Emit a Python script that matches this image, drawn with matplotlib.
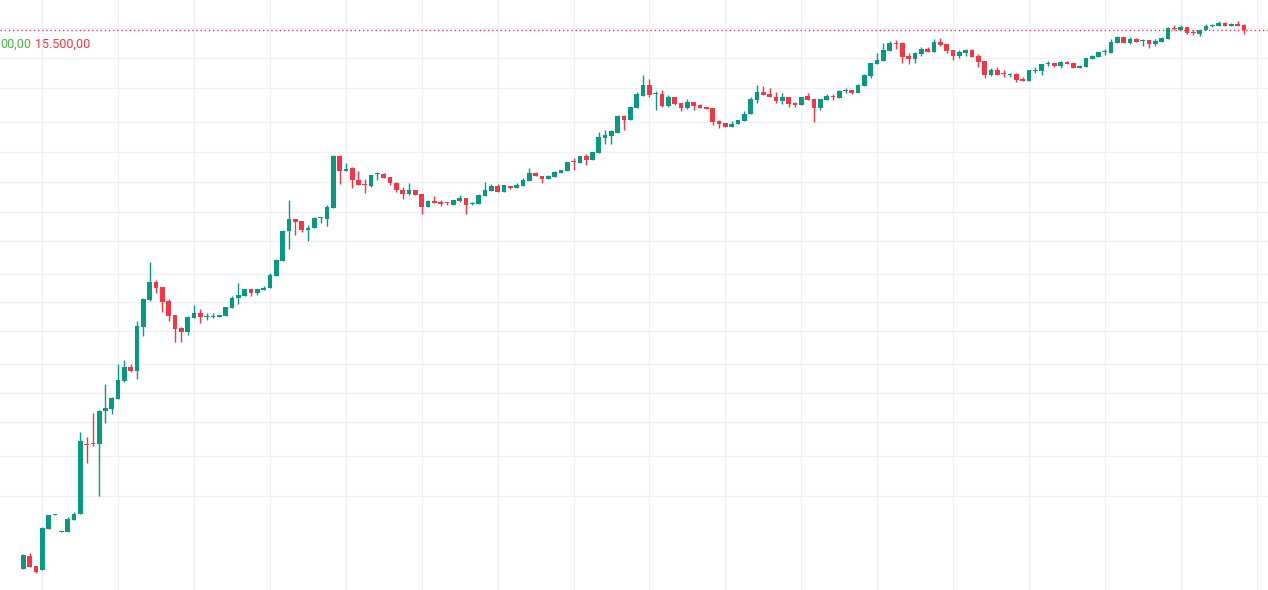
import matplotlib
matplotlib.use("Agg")
import matplotlib.pyplot as plt
import numpy as np

# OHLC values, one entry per candle
opens = [
    2025, 2362.5, 2112.5, 2012.5, 3037.5, 3387.5, 2962.5, 2962.5, 3262.5, 3412.5,
    5162.5, 5175, 5162.5, 5987.5, 6037.5, 6287.5, 6725, 7075, 6987.5, 8087.5,
    8762.5, 9200, 9075, 8737.5, 8375, 8050, 7950, 8300, 8425, 8337.5,
    8337.5, 8325, 8350, 8550, 8800, 8850, 9025, 8937.5, 9012.5, 9062.5,
    9350, 9737.5, 10487.5, 10775, 10737.5, 10512.5, 10562.5, 10800, 10775, 11062.5,
    12362.5, 11987.5, 12050, 11762.5, 11662.5, 11612.5, 11912.5, 11912.5, 11837.5, 11687.5,
    11512.5, 11400, 11500, 11400, 11087.5, 11225, 11212.5, 11187.5, 11137.5, 11237.5,
    11300, 11162.5, 11162.5, 11362.5, 11487.5, 11600, 11462.5, 11612.5, 11550, 11600,
    11737.5, 11937.5, 11862.5, 11787.5, 11837.5, 11937.5, 11987.5, 12212.5, 12187.5, 12350,
    12262.5, 12437.5, 12812.5, 12862.5, 12937.5, 13350, 13262.5, 13562.5, 13862.5, 14125,
    13900, 13912.5, 13612.5, 13825, 13687.5, 13562.5, 13700, 13625, 13587.5, 13550,
    13225, 13175, 13087.5, 13162.5, 13225, 13412.5, 13762.5, 13950, 13900, 13837.5,
    13737.5, 13825, 13687.5, 13625, 13850, 13775, 13550, 13750, 13837.5, 13800,
    13987.5, 14012.5, 13937.5, 14112.5, 14350, 14650, 14737.5, 14987.5, 15175, 15175,
    14850, 14787.5, 14900, 15025, 14950, 15200, 15162.5, 15012.5, 14862.5, 14937.5,
    15012.5, 14850, 14725, 14387.5, 14500, 14412.5, 14387.5, 14400, 14275, 14237.5,
    14487.5, 14487.5, 14662.5, 14675, 14612.5, 14712.5, 14687.5, 14562.5, 14587.5, 14787.5,
    14837.5, 14950, 14937.5, 15187.5, 15325, 15187.5, 15275, 15237.5, 15250, 15150,
    15200, 15287.5, 15550, 15512.5, 15575, 15450, 15412.5, 15512.5, 15612.5, 15612.5,
    15675, 15612.5, 15662.5, 15625,
]
highs = [
    2400, 2425, 2112.5, 3087.5, 3375, 3400, 2975, 3325, 3450, 5450,
    5325, 5925, 6000, 6662.5, 6337.5, 7150, 7250, 7162.5, 8225, 8812.5,
    9700, 9250, 9075, 8775, 8375, 8087.5, 8350, 8625, 8525, 8425,
    8425, 8375, 8575, 8850, 9175, 9025, 9025, 9025, 9100, 9425,
    9775, 10500, 11250, 10775, 10737.5, 10625, 10837.5, 10837.5, 11137.5, 12375,
    12375, 12187.5, 12075, 11987.5, 11787.5, 11887.5, 11950, 11937.5, 11837.5, 11712.5,
    11587.5, 11675, 11512.5, 11400, 11250, 11350, 11250, 11212.5, 11250, 11375,
    11300, 11212.5, 11412.5, 11712.5, 11662.5, 11662.5, 11625, 11612.5, 11675, 11800,
    12062.5, 11962.5, 11862.5, 11875, 11975, 12012.5, 12200, 12312.5, 12362.5, 12412.5,
    12450, 12950, 13000, 13000, 13375, 13387.5, 13575, 13962.5, 14375, 14275,
    13987.5, 14000, 13875, 13825, 13687.5, 13775, 13700, 13662.5, 13587.5, 13550,
    13262.5, 13175, 13237.5, 13250, 13475, 13837.5, 14125, 14100, 14050, 13950,
    13925, 13825, 13712.5, 13837.5, 13925, 13775, 13775, 13900, 13900, 14000,
    14050, 14012.5, 14162.5, 14412.5, 14675, 14937.5, 15187.5, 15225, 15250, 15200,
    14925, 14950, 15087.5, 15087.5, 15275, 15300, 15162.5, 15012.5, 15000, 15037.5,
    15037.5, 14900, 14725, 14550, 14575, 14500, 14437.5, 14437.5, 14325, 14500,
    14575, 14662.5, 14737.5, 14675, 14725, 14737.5, 14687.5, 14625, 14800, 14887.5,
    14950, 15037.5, 15275, 15362.5, 15325, 15325, 15312.5, 15287.5, 15250, 15275,
    15337.5, 15575, 15625, 15625, 15575, 15512.5, 15512.5, 15650, 15662.5, 15725,
    15712.5, 15675, 15725, 15650,
]
lows = [
    2025, 2087.5, 1937.5, 2012.5, 3037.5, 3387.5, 2962.5, 2962.5, 3262.5, 3412.5,
    4687.5, 5112.5, 3862.5, 5687.5, 5912.5, 6287.5, 6712.5, 6962.5, 6787.5, 7862.5,
    8725, 8937.5, 8462.5, 8237.5, 7712.5, 7712.5, 7875, 8300, 8175, 8262.5,
    8300, 8325, 8350, 8550, 8662.5, 8850, 8850, 8887.5, 9012.5, 9062.5,
    9350, 9737.5, 10037.5, 10387.5, 10462.5, 10237.5, 10562.5, 10687.5, 10612.5, 11062.5,
    11662.5, 11987.5, 11562.5, 11637.5, 11437.5, 11587.5, 11750, 11812.5, 11637.5, 11462.5,
    11275, 11387.5, 11387.5, 10912.5, 11087.5, 11187.5, 11112.5, 11125, 11137.5, 11212.5,
    10900, 11137.5, 11162.5, 11362.5, 11487.5, 11462.5, 11462.5, 11525, 11550, 11600,
    11737.5, 11862.5, 11687.5, 11787.5, 11837.5, 11937.5, 11987.5, 12012.5, 12187.5, 12125,
    12262.5, 12437.5, 12662.5, 12662.5, 12937.5, 13012.5, 13262.5, 13562.5, 13862.5, 13837.5,
    13500, 13587.5, 13587.5, 13637.5, 13487.5, 13537.5, 13512.5, 13562.5, 13525, 13125,
    13062.5, 13087.5, 13087.5, 13162.5, 13225, 13412.5, 13687.5, 13887.5, 13837.5, 13687.5,
    13662.5, 13587.5, 13587.5, 13625, 13762.5, 13200, 13512.5, 13750, 13750, 13800,
    13937.5, 13912.5, 13937.5, 14112.5, 14312.5, 14650, 14737.5, 14987.5, 15037.5, 14687.5,
    14662.5, 14687.5, 14862.5, 14950, 14950, 15112.5, 14937.5, 14750, 14812.5, 14862.5,
    14837.5, 14587.5, 14312.5, 14362.5, 14387.5, 14337.5, 14337.5, 14212.5, 14225, 14237.5,
    14437.5, 14387.5, 14612.5, 14587.5, 14562.5, 14662.5, 14562.5, 14562.5, 14587.5, 14787.5,
    14837.5, 14887.5, 14937.5, 15187.5, 15187.5, 15162.5, 15212.5, 15112.5, 15062.5, 15112.5,
    15200, 15287.5, 15512.5, 15512.5, 15412.5, 15387.5, 15362.5, 15512.5, 15575, 15612.5,
    15612.5, 15612.5, 15612.5, 15412.5,
]
closes = [
    2375, 2087.5, 1962.5, 3062.5, 3375, 3400, 2975, 3275, 3400, 5225,
    5137.5, 5150, 5987.5, 6050, 6300, 6750, 7075, 6987.5, 8100, 8775,
    9200, 9062.5, 8712.5, 8362.5, 8025, 7950, 8325, 8425, 8325, 8350,
    8350, 8375, 8575, 8812.5, 8875, 9025, 8937.5, 9025, 9062.5, 9375,
    9750, 10475, 10775, 10712.5, 10500, 10562.5, 10812.5, 10812.5, 11075, 12362.5,
    11987.5, 12037.5, 11762.5, 11637.5, 11637.5, 11887.5, 11925, 11812.5, 11675, 11500,
    11412.5, 11500, 11387.5, 11087.5, 11225, 11187.5, 11162.5, 11175, 11250, 11300,
    11137.5, 11187.5, 11375, 11500, 11600, 11462.5, 11625, 11550, 11625, 11750,
    11937.5, 11862.5, 11787.5, 11850, 11950, 12012.5, 12200, 12200, 12362.5, 12262.5,
    12450, 12837.5, 12875, 12987.5, 13350, 13262.5, 13575, 13912.5, 14125, 13887.5,
    13912.5, 13612.5, 13825, 13662.5, 13562.5, 13700, 13612.5, 13562.5, 13525, 13212.5,
    13162.5, 13087.5, 13162.5, 13250, 13412.5, 13775, 13950, 13887.5, 13837.5, 13737.5,
    13825, 13662.5, 13625, 13837.5, 13762.5, 13550, 13775, 13850, 13825, 13975,
    14000, 13937.5, 14125, 14387.5, 14675, 14750, 15000, 15175, 15162.5, 14837.5,
    14775, 14925, 15025, 14950, 15200, 15125, 14975, 14862.5, 14950, 15012.5,
    14837.5, 14712.5, 14387.5, 14500, 14387.5, 14400, 14412.5, 14250, 14237.5, 14500,
    14500, 14662.5, 14675, 14612.5, 14712.5, 14662.5, 14562.5, 14600, 14800, 14862.5,
    14950, 14962.5, 15212.5, 15325, 15187.5, 15275, 15212.5, 15250, 15162.5, 15225,
    15300, 15550, 15537.5, 15587.5, 15437.5, 15437.5, 15500, 15612.5, 15625, 15675,
    15612.5, 15650, 15612.5, 15500,
]

# horizontal grid levels and legend texts
grid_levels = [15550, 14800, 14050, 13200, 12450, 11700, 10950, 10225,
               9400, 8700, 7975, 7150, 6425, 5700, 4850, 3850]
legend_left = "00,00"
legend_price = "15.500,00"

UP = "#089981"
DOWN = "#F23645"

o = np.array(opens)
h = np.array(highs)
l = np.array(lows)
c = np.array(closes)
x = np.arange(len(o))
colors = np.where(c >= o, UP, DOWN)

fig = plt.figure(figsize=(12.68, 5.90), dpi=100)
ax = fig.add_axes([0, 0, 1, 1])
ax.set_xlim(-3.68, 196.8)
ax.set_ylim(1500, 16250)
ax.axis("off")

# grid
for g in grid_levels:
    ax.axhline(g, color="#f0f0f0", lw=1, zorder=0)
for gx in range(3, 200, 12):
    ax.axvline(gx, color="#f0f0f0", lw=1, zorder=0)

# candles
ax.vlines(x, l, h, colors=colors, lw=1.0, zorder=2)
body_bottom = np.minimum(o, c)
body_height = np.maximum(np.abs(c - o), 25)
ax.bar(x, body_height, bottom=body_bottom, width=0.74, color=colors,
       linewidth=0, zorder=3)

# last price line
ax.axhline(c[-1], color=DOWN, lw=1, linestyle=(0, (1, 2)), zorder=1)

fig.text(0.0, 1 - 44 / 590, legend_left, color="#4CAF50", fontsize=9,
         family="Roboto", va="center", ha="left")
fig.text(35 / 1268, 1 - 44 / 590, legend_price, color=DOWN, fontsize=9,
         family="Roboto", va="center", ha="left")

fig.savefig("out.png", dpi=100, facecolor="white")
